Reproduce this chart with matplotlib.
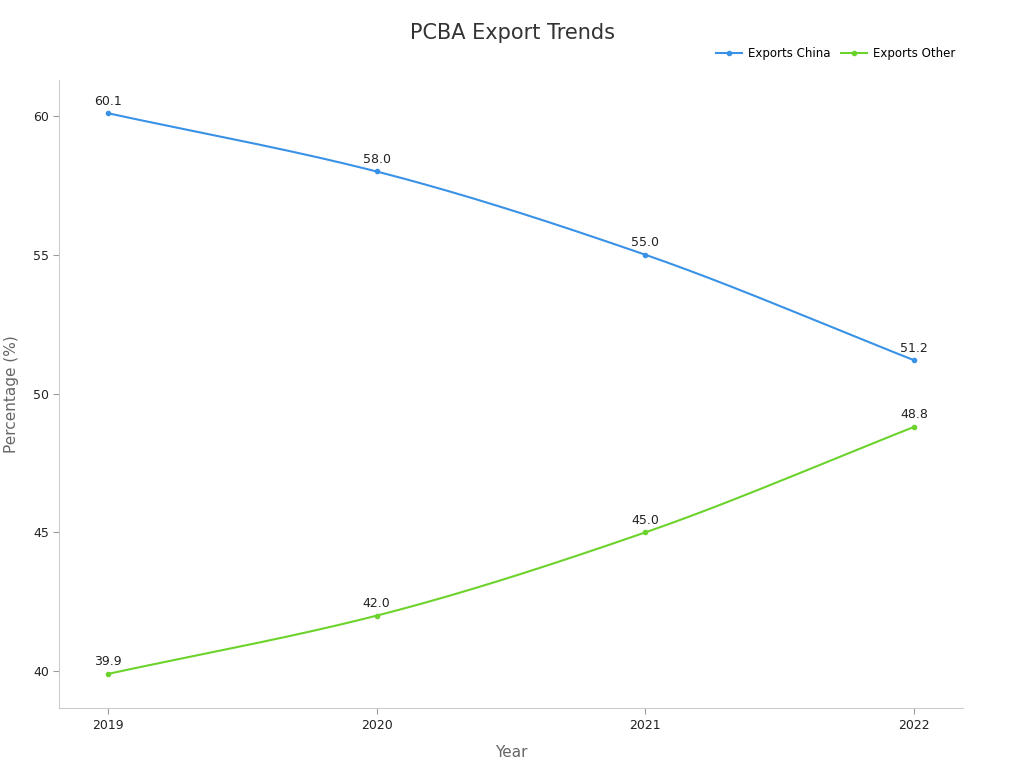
import numpy as np
import matplotlib
matplotlib.use("Agg")
import matplotlib.pyplot as plt

years = [2019, 2020, 2021, 2022]
china = [60.1, 58.0, 55.0, 51.2]
other = [39.9, 42.0, 45.0, 48.8]

def monotone(x, y, n=200):
    x = np.asarray(x, float); y = np.asarray(y, float)
    h = np.diff(x); d = np.diff(y) / h
    m = np.zeros_like(y)
    m[0], m[-1] = d[0], d[-1]
    for i in range(1, len(y) - 1):
        if d[i-1] * d[i] <= 0:
            m[i] = 0
        else:
            w1 = 2*h[i] + h[i-1]; w2 = h[i] + 2*h[i-1]
            m[i] = (w1 + w2) / (w1/d[i-1] + w2/d[i])
    xs = np.linspace(x[0], x[-1], n); ys = np.empty_like(xs)
    for j, xv in enumerate(xs):
        i = min(np.searchsorted(x, xv, side="right") - 1, len(x) - 2)
        t = (xv - x[i]) / h[i]
        h00 = 2*t**3 - 3*t**2 + 1; h10 = t**3 - 2*t**2 + t
        h01 = -2*t**3 + 3*t**2; h11 = t**3 - t**2
        ys[j] = h00*y[i] + h10*h[i]*m[i] + h01*y[i+1] + h11*h[i]*m[i+1]
    return xs, ys

fig = plt.figure(figsize=(10.24, 7.68), dpi=100)
ax = fig.add_axes([0.058, 0.078, 0.882, 0.818])
series = [("Exports China", china, "#3a92e6"), ("Exports Other", other, "#6cd32c")]
for name, vals, c in series:
    xs, ys = monotone(years, vals)
    ax.plot(xs, ys, color=c, lw=1.5)
    ax.plot(years, vals, "o", color=c, ms=3)
    ax.plot([], [], color=c, marker="o", ms=3, lw=1.5, label=name)
    for x, v in zip(years, vals):
        ax.annotate(f"{v:.1f}", (x, v), xytext=(0, 4), textcoords="offset points",
                    ha="center", va="bottom", fontsize=9, color="#222222")

ax.set_xlim(2018.82, 2022.18)
ax.set_ylim(38.67, 61.3)
ax.set_xticks(years)
ax.set_xticklabels([str(y) for y in years])
ax.set_yticks([40, 45, 50, 55, 60])
ax.tick_params(labelsize=9, length=4, colors="#999999", labelcolor="#222222")
for s in ["top", "right"]:
    ax.spines[s].set_visible(False)
for s in ["left", "bottom"]:
    ax.spines[s].set_color("#cccccc")
ax.set_xlabel("Year", fontsize=11, color="#666666", labelpad=10)
ax.set_ylabel("Percentage (%)", fontsize=11, color="#666666", labelpad=10)
fig.text(0.5, 0.957, "PCBA Export Trends", ha="center", va="center", fontsize=15, color="#333333")
fig.legend(loc="center right", bbox_to_anchor=(0.943, 0.93), ncol=2, frameon=False,
           fontsize=8.5, handlelength=2.2, columnspacing=0.9, handletextpad=0.5)
fig.savefig("out.png", dpi=100)
